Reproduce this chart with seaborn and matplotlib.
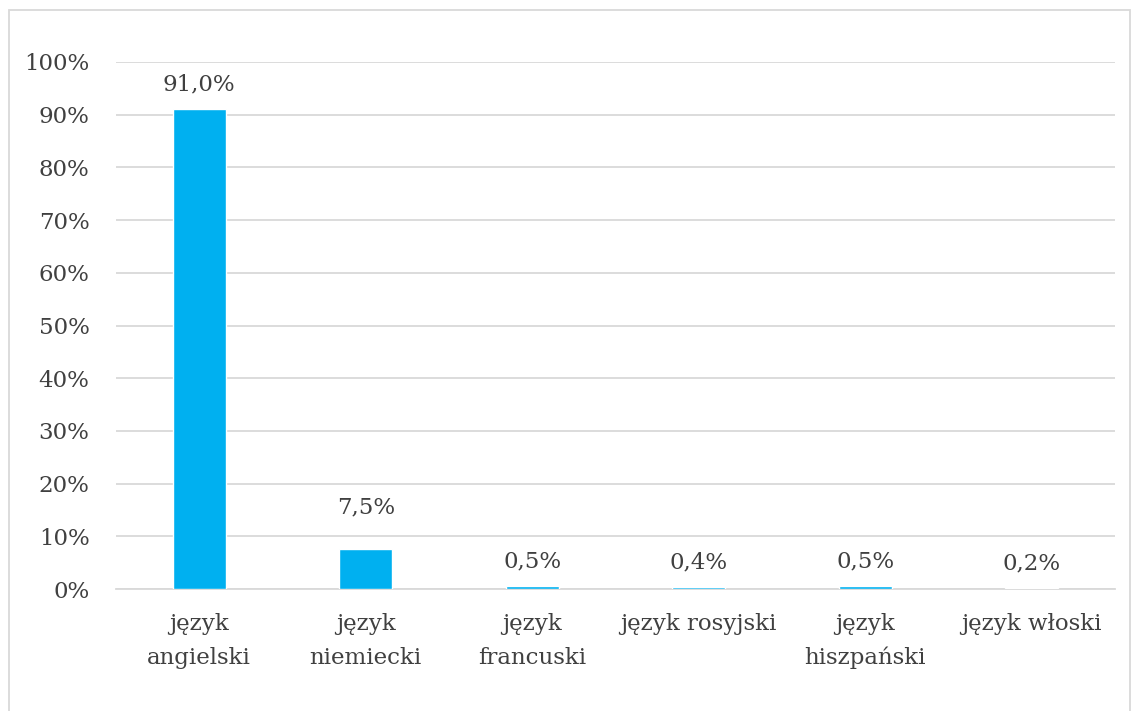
import matplotlib
matplotlib.use("Agg")
import matplotlib.pyplot as plt
import seaborn as sns
import pandas as pd
from matplotlib.patches import Rectangle

categories = ["język\nangielski", "język\nniemiecki", "język\nfrancuski",
              "język rosyjski", "język\nhiszpański", "język włoski"]
values = [91.0, 7.5, 0.5, 0.4, 0.5, 0.2]
yticks = [0, 10, 20, 30, 40, 50, 60, 70, 80, 90, 100]
ytick_labels = [f"{t}%" for t in yticks]
label_offsets = [10, 22, 10, 10, 10, 10]

sns.set_theme(style="white")
plt.rcParams["font.family"] = ["DejaVu Serif"]

TEXT = "#404040"
BAR = "#00B0F0"
GRID = "#D9D9D9"
FS = 16.5

fig = plt.figure(figsize=(11.38, 7.11), dpi=100)
ax = fig.add_axes([116 / 1138, 1 - 589 / 711, (1115 - 116) / 1138, (589 - 62) / 711])

df = pd.DataFrame({"cat": categories, "val": values})
sns.barplot(data=df, x="cat", y="val", color=BAR, width=0.32, ax=ax,
            saturation=1, zorder=3)

ax.set_ylim(0, 100)
ax.set_xlim(-0.5, len(categories) - 0.5)
ax.set_yticks(yticks)
ax.set_yticklabels(ytick_labels, color=TEXT, fontsize=FS)
ax.set_xticks(range(len(categories)))
ax.set_xticklabels(categories, color=TEXT, fontsize=FS, linespacing=1.7)
ax.tick_params(axis="y", length=0, pad=19)
ax.tick_params(axis="x", length=0, pad=17)
ax.set_xlabel("")
ax.set_ylabel("")
ax.yaxis.grid(True, color=GRID, linewidth=1.3, zorder=0)
ax.set_axisbelow(True)
for s in ["top", "right", "left"]:
    ax.spines[s].set_visible(False)
ax.spines["bottom"].set_color(GRID)
ax.spines["bottom"].set_linewidth(1.3)

for i, v in enumerate(values):
    ax.annotate(f"{v:.1f}%".replace(".", ","), (i, v), xytext=(0, label_offsets[i]),
                textcoords="offset points", ha="center", va="bottom",
                color=TEXT, fontsize=FS)

fig.patches.append(Rectangle((9 / 1138, -0.01), (1130 - 9) / 1138, 1.01 - 10 / 711,
                             transform=fig.transFigure, fill=False,
                             edgecolor=GRID, linewidth=1.3))

fig.savefig("out.png", dpi=100, facecolor="white")
